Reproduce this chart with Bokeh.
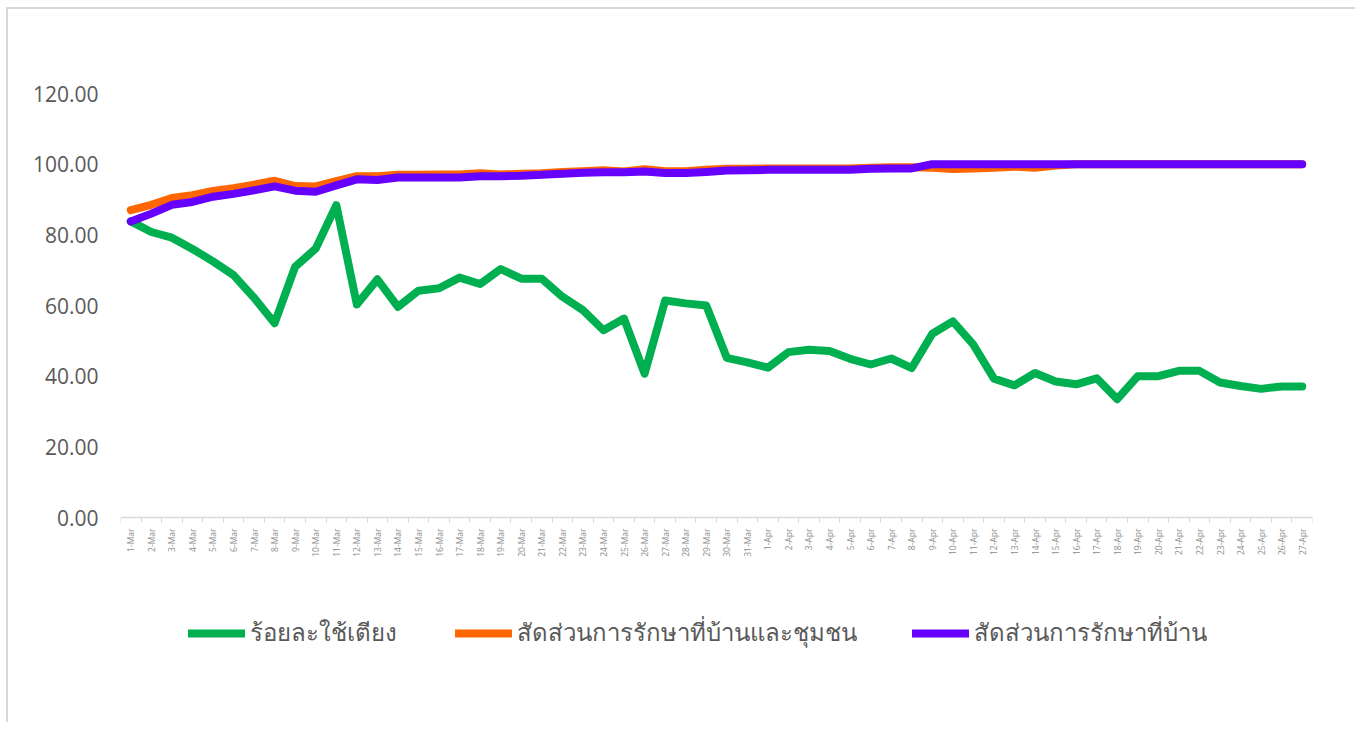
import math
from bokeh.plotting import figure
from bokeh.models import (Range1d, FixedTicker, NumeralTickFormatter, Legend, LegendItem)
from bokeh.embed import file_html
from bokeh.resources import INLINE

dates = [f"{d}-Mar" for d in range(1, 32)] + [f"{d}-Apr" for d in range(1, 28)]

bed_use = [83.8, 80.8, 79.2, 76.0, 72.5, 68.6, 62.2, 55.0, 71.0, 76.1,
           88.4, 60.3, 67.4, 59.6, 64.2, 64.9, 67.9, 66.1, 70.3, 67.6,
           67.6, 62.5, 58.7, 53.0, 56.3, 40.7, 61.4, 60.6, 60.0, 45.2,
           43.9, 42.4, 46.8, 47.5, 47.1, 44.9, 43.3, 45.0, 42.3, 52.0,
           55.5, 48.9, 39.3, 37.4, 40.9, 38.5, 37.7, 39.4, 33.5, 40.0,
           40.0, 41.5, 41.5, 38.2, 37.2, 36.4, 37.1, 37.1]

home_community = [87.0, 88.5, 90.4, 91.2, 92.4, 93.2, 94.2, 95.3, 93.8, 93.7,
                  95.2, 96.6, 96.6, 97.0, 97.0, 97.1, 97.1, 97.4, 97.1, 97.3,
                  97.4, 97.8, 98.0, 98.3, 97.9, 98.6, 98.0, 98.0, 98.4, 98.7,
                  98.7, 98.8, 98.8, 98.8, 98.8, 98.8, 99.0, 99.1, 99.1, 99.0,
                  98.6, 98.8, 99.0, 99.3, 99.0, 99.6, 100.0, 100.0, 100.0, 100.0,
                  100.0, 100.0, 100.0, 100.0, 100.0, 100.0, 100.0, 100.0]

home_only = [83.8, 86.0, 88.5, 89.3, 90.8, 91.6, 92.6, 93.7, 92.5, 92.2,
             94.0, 95.7, 95.5, 96.2, 96.2, 96.2, 96.2, 96.6, 96.6, 96.7,
             97.0, 97.3, 97.6, 97.7, 97.7, 97.9, 97.5, 97.5, 97.8, 98.2,
             98.3, 98.4, 98.4, 98.4, 98.4, 98.4, 98.7, 98.8, 98.8, 100.0,
             100.0, 100.0, 100.0, 100.0, 100.0, 100.0, 100.0, 100.0, 100.0, 100.0,
             100.0, 100.0, 100.0, 100.0, 100.0, 100.0, 100.0, 100.0]

y_ticks = [0, 20, 40, 60, 80, 100, 120]

series_names = ["ร้อยละใช้เตียง", "สัดส่วนการรักษาที่บ้านและชุมชน", "สัดส่วนการรักษาที่บ้าน"]
series_colors = ["#00B050", "#FF6600", "#6600FF"]

x = list(range(len(dates)))
n = len(dates)

# canvas origin on the page (after css margin + border), frame edges in page px
OX, OY = 8, 9
W, H = 1349, 715
FL, FT, FR = 120, 93, 1312
Y0_PX = 517                      # page y of value 0
MB = 60                          # bottom border
FB = OY + H - MB                 # frame bottom in page px
per_px = 120.0 / (Y0_PX - FT)
y_start = 120.0 - (FB - FT) * per_px

p = figure(width=W, height=H, output_backend="svg", toolbar_location=None,
           x_range=Range1d(-0.5, n - 0.5), y_range=Range1d(y_start, 120),
           min_border_left=FL - OX, min_border_top=FT - OY,
           min_border_right=W - (FR - OX), min_border_bottom=MB,
           background_fill_color="white", border_fill_color="white",
           styles={"border-top": "2px solid #d9d9d9", "border-left": "2px solid #d9d9d9",
                   "margin-left": "6px", "margin-top": "7px"})
p.outline_line_color = None
p.xgrid.visible = False
p.ygrid.visible = False

# x axis drawn at value 0 inside the frame
p.xaxis.fixed_location = 0
p.xaxis.ticker = FixedTicker(ticks=x, minor_ticks=[i + 0.5 for i in range(-1, n)])
p.xaxis.major_label_overrides = {i: d for i, d in enumerate(dates)}
p.xaxis.major_label_orientation = math.pi / 2
p.xaxis.major_label_text_font_size = "8.5px"
p.xaxis.major_label_text_color = "#8c8c8c"
p.xaxis.major_label_text_font = "Open Sans"
p.xaxis.axis_line_color = "#d9d9d9"
p.xaxis.axis_line_width = 1.5
p.xaxis.major_tick_out = 0
p.xaxis.major_tick_in = 0
p.xaxis.minor_tick_out = 5
p.xaxis.minor_tick_in = 0
p.xaxis.minor_tick_line_color = "#d9d9d9"
p.xaxis.major_label_standoff = 6

# y axis
p.yaxis.ticker = FixedTicker(ticks=y_ticks)
p.yaxis.formatter = NumeralTickFormatter(format="0.00")
p.yaxis.axis_line_color = None
p.yaxis.major_tick_line_color = None
p.yaxis.minor_tick_line_color = None
p.yaxis.major_label_text_font_size = "21px"
p.yaxis.major_label_text_color = "#595959"
p.yaxis.major_label_text_font = "Open Sans"
p.yaxis.major_label_standoff = 16

renderers = []
for vals, col in zip([bed_use, home_community, home_only], series_colors):
    r = p.line(x, vals, line_color=col, line_width=8, line_cap="round", line_join="round")
    renderers.append(r)

items = [LegendItem(label=name, renderers=[r]) for name, r in zip(series_names, renderers)]
lg = Legend(items=items, location=(68, FB - 652), orientation="horizontal",
            glyph_width=57, glyph_height=20, label_standoff=5, spacing=55,
            label_width=150,
            label_text_font_size="24px", label_text_color="#595959",
            label_text_font="Noto Sans", padding=0, margin=0,
            border_line_color=None, background_fill_alpha=0)
p.add_layout(lg, "center")

open("out.html", "w").write(file_html(p, INLINE))
